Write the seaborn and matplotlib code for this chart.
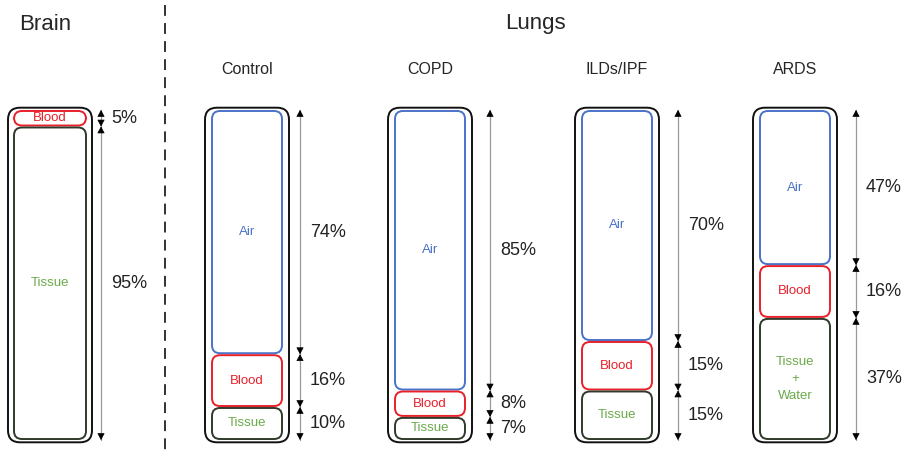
import matplotlib
matplotlib.use("Agg")
import matplotlib.pyplot as plt
from matplotlib.patches import FancyBboxPatch
import seaborn as sns

# --- dados ---
groups = ['Brain', 'Control', 'COPD', 'ILDs/IPF', 'ARDS']
air = [0, 74, 85, 70, 47]
blood = [5, 16, 8, 15, 16]
tissue = [95, 10, 7, 15, 37]
tissue_names = ['Tissue', 'Tissue', 'Tissue', 'Tissue', 'Tissue\n+\nWater']

# --- layout (pixels no eixo x, % no eixo y) ---
box_left = [8, 205, 388, 575, 753]
box_w = 84
arrow_x = [101, 300, 490, 678, 856]
px_per_pct = 3.3
aspect = 1 / px_per_pct

sns.set_theme(style='white')
plt.rcParams['font.family'] = ['Liberation Sans', 'DejaVu Sans']

fig = plt.figure(figsize=(9.05, 4.57), dpi=100)
ax = fig.add_axes([0, 0, 1, 1])
ax.set_xlim(0, 905)
ax.set_ylim(-17 / px_per_pct, 100 + 110 / px_per_pct)
ax.axis('off')

blue = '#4a72c8'
red = '#e8202a'
green = '#6aaa4a'
dark = '#2f3b2a'


def caixa(x, y0, y1, w, ec, lw, r):
    p = FancyBboxPatch((x, y0), w, y1 - y0,
                       boxstyle=f'round,pad=0,rounding_size={r}',
                       mutation_aspect=aspect, fc='white', ec=ec, lw=lw)
    ax.add_patch(p)


def ponta(x, y_de, y_para):
    ax.annotate('', xy=(x, y_para), xytext=(x, y_de),
                arrowprops=dict(arrowstyle='-|>,head_length=0.55,head_width=0.3',
                                fc='black', ec='black', lw=0.5,
                                mutation_scale=7.5, shrinkA=0, shrinkB=0))


for i, g in enumerate(groups):
    x0 = box_left[i]
    caixa(x0, -0.7, 100.7, box_w, '#111111', 1.4, 12)
    segs = [('Air', air[i], blue, blue),
            ('Blood', blood[i], red, red),
            (tissue_names[i], tissue[i], dark, green)]
    inset = 6 if i == 0 else 7
    topo = 100
    for nome, pct, ec, tc in segs:
        if pct == 0:
            continue
        hi, lo = topo, topo - pct
        caixa(x0 + inset, lo + 0.3, hi - 0.3, box_w - 2 * inset, ec, 1.4, 8)
        ax.text(x0 + box_w / 2, (hi + lo) / 2, nome, color=tc, fontsize=9.5,
                ha='center', va='center', linespacing=1.6)
        ax_ = arrow_x[i]
        ax.plot([ax_, ax_], [lo, hi], color='#999999', lw=0.9)
        d = min(1.2, pct / 3)
        ponta(ax_, hi - d, hi)
        ponta(ax_, lo + d, lo)
        ax.text(ax_ + 10, (hi + lo) / 2, f'{pct}%', fontsize=13,
                ha='left', va='center', color='#222222')
        topo = lo
    if i > 0:
        fig.text((x0 + box_w / 2) / 905, 1 - 70 / 457, g, fontsize=11.5,
                 ha='center', va='center')

fig.text(45 / 905, 1 - 25 / 457, 'Brain', fontsize=16, ha='center', va='center')
fig.text(535 / 905, 1 - 23 / 457, 'Lungs', fontsize=16, ha='center', va='center')
fig.add_artist(plt.Line2D([165 / 905, 165 / 905], [1 - 5 / 457, 1 - 452 / 457],
                          transform=fig.transFigure, color='#222222', lw=1.3,
                          dashes=(6, 4)))

fig.savefig('out.png', dpi=100, facecolor='white')
